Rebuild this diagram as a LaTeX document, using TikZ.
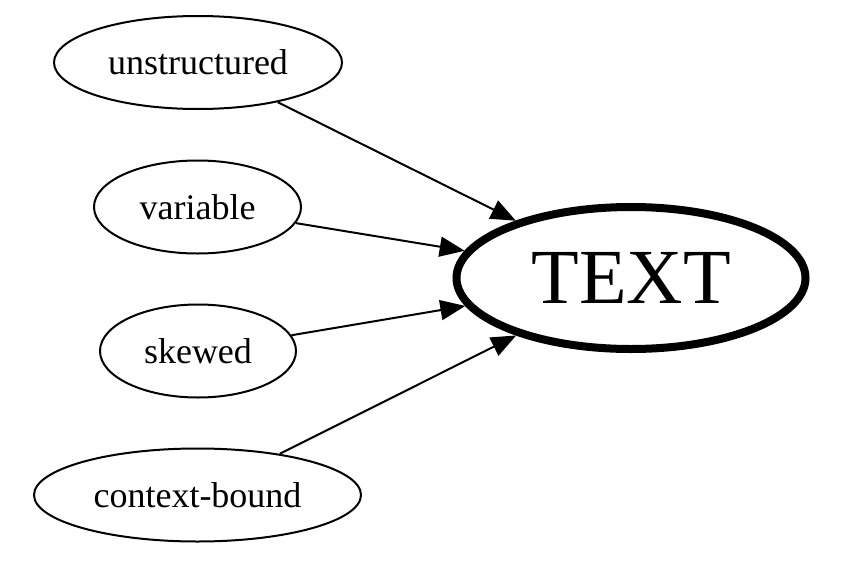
\documentclass[tikz,border=0pt]{standalone}
\usepackage{fontspec}
\setmainfont{Liberation Serif}
\usetikzlibrary{shapes.geometric,arrows.meta}
\begin{document}
\begin{tikzpicture}[x=1pt,y=-1pt,
  leaf/.style={ellipse,draw,line width=2pt,inner sep=0pt,outer sep=1pt,minimum height=93pt,font=\fontsize{36}{40}\selectfont},
  hub/.style={ellipse,draw,line width=8pt,inner sep=0pt,outer sep=4pt,font=\fontsize{78}{80}\selectfont},
  edge/.style={line width=2pt,-{Triangle[length=25pt,width=20pt]}}]
\useasboundingbox (0,0) rectangle (862,570);
\node[leaf,minimum width=288pt] (u) at (198,62.5) {unstructured};
\node[leaf,minimum width=207pt] (v) at (197.5,207) {variable};
\node[leaf,minimum width=196pt] (s) at (198,351) {skewed};
\node[leaf,minimum width=327pt] (c) at (197.5,495) {context-bound};
\node[hub,minimum width=349pt,minimum height=142pt] (t) at (631,278) {TEXT};
\draw[edge] (u) -- (t);
\draw[edge] (v) -- (t);
\draw[edge] (s) -- (t);
\draw[edge] (c) -- (t);
\end{tikzpicture}
\end{document}
